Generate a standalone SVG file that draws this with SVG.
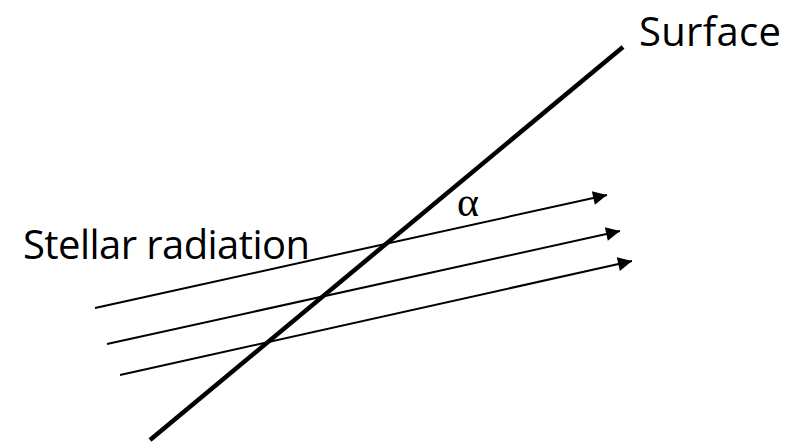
<svg xmlns="http://www.w3.org/2000/svg" width="800" height="442" viewBox="0 0 800 442">
<style>
.lbl{font-family:"Open Sans","Liberation Sans",sans-serif;font-size:40px;fill:#000}
.ray{stroke:#000;stroke-width:2;fill:none;marker-end:url(#ah)}
</style>
<defs>
<marker id="ah" viewBox="0 0 10 10" refX="10" refY="5" markerWidth="8" markerHeight="7" markerUnits="strokeWidth" orient="auto">
<path d="M0,0 L10,5 L0,10 Z" fill="#000"/>
</marker>
</defs>
<rect width="800" height="442" fill="#fff"/>
<g id="surface">
<line x1="150" y1="440" x2="623" y2="47" stroke="#000" stroke-width="4.5"/>
<text class="lbl" x="639" y="46" textLength="142">Surface</text>
</g>
<g id="connectors">
<line class="ray" x1="95" y1="308" x2="607" y2="195"/>
<line class="ray" x1="107" y1="344" x2="620" y2="231"/>
<line class="ray" x1="120" y1="375" x2="632" y2="261"/>
</g>
<g id="labels">
<text class="lbl" x="23" y="259" textLength="287">Stellar radiation</text>
<text x="457" y="216" font-family="'Liberation Serif',serif" font-size="42">α</text>
</g>
</svg>
